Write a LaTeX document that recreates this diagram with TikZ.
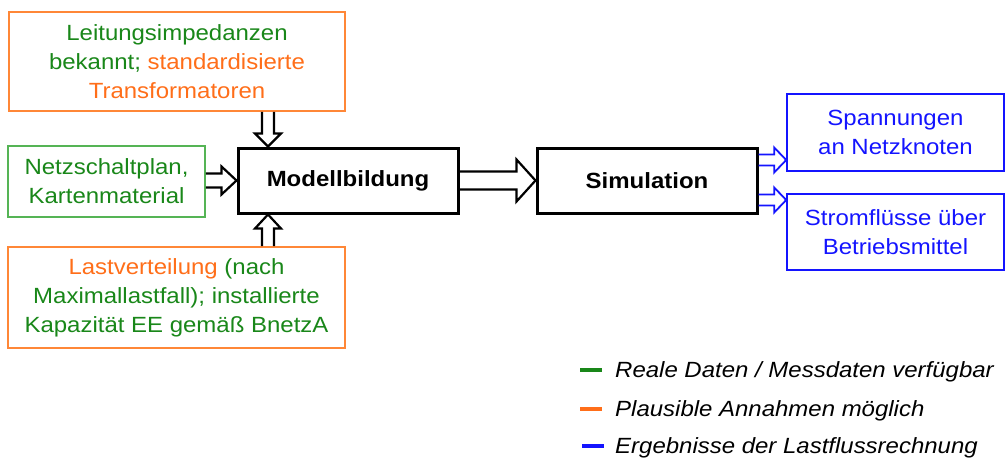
\documentclass[tikz,border=0pt]{standalone}
\usepackage{fontspec}
\setmainfont{Liberation Sans}[FakeStretch=1.09]
\usetikzlibrary{calc}

\definecolor{dgreen}{RGB}{25,135,25}
\definecolor{lgreen}{RGB}{85,180,85}
\definecolor{dorange}{RGB}{255,110,25}
\definecolor{lorange}{RGB}{255,135,55}
\definecolor{dblue}{RGB}{20,20,255}

\newcommand\G[1]{\textcolor{dgreen}{#1}}
\newcommand\Or[1]{\textcolor{dorange}{#1}}

% hollow block arrow: [style]{start}{end}{half shaft}{half head}{head length}
\newcommand\blockarrow[6][]{%
  \coordinate (ba-h) at ($(#3)!#6!(#2)$);
  \draw[#1] ($(#2)!#4!90:(#3)$) -- ($(ba-h)!#4!90:(#3)$) -- ($(ba-h)!#5!90:(#3)$)
    -- (#3) -- ($(ba-h)!#5!-90:(#3)$) -- ($(ba-h)!#4!-90:(#3)$) -- ($(#2)!#4!-90:(#3)$);
}

\tikzset{
  base/.style={inner sep=0pt, align=center,
    font=\fontsize{22}{29}\selectfont},
  greenbox/.style={base, draw=lgreen, line width=1.6pt, text=dgreen},
  orangebox/.style={base, draw=lorange, line width=1.6pt},
  bluebox/.style={base, draw=dblue, line width=1.6pt, text=dblue},
  procbox/.style={base, draw=black, line width=3pt,
    font=\fontsize{22}{29}\selectfont\bfseries},
  blackarrow/.style={draw=black, line width=2.2pt, line join=miter},
  bluearrow/.style={draw=dblue, line width=1.8pt, line join=miter},
  legtext/.style={anchor=base west, inner sep=0pt,
    font=\fontsize{22}{26}\selectfont\itshape},
  legkey/.style={line width=3.4pt},
}

\begin{document}
\begin{tikzpicture}[x=1pt, y=-1pt]
  \useasboundingbox (0,0) rectangle (1007,461);

  % input boxes
  \node[orangebox, minimum width=336pt, minimum height=99pt] (trafo) at (177,61.5)
    {\G{Leitungsimpedanzen}\\\G{bekannt;} \Or{standardisierte}\\\Or{Transformatoren}};
  \node[greenbox, minimum width=197pt, minimum height=71pt] (plan) at (106.5,181.5)
    {Netzschaltplan,\\Kartenmaterial};
  \node[orangebox, minimum width=337pt, minimum height=101pt] (last) at (176.5,297.5)
    {\Or{Lastverteilung} \G{(nach}\\\G{Maximallastfall); installierte}\\\G{Kapazität EE gemäß BnetzA}};

  % processing steps
  \node[procbox, minimum width=220pt, minimum height=65pt] (model) at (348,180.5) {Modellbildung};
  \node[procbox, minimum width=220pt, minimum height=65pt] (sim) at (647,180.5) {Simulation};

  % results
  \node[bluebox, minimum width=217pt, minimum height=77pt] (volt) at (895.5,132.5)
    {Spannungen\\an Netzknoten};
  \node[bluebox, minimum width=217pt, minimum height=76pt] (flow) at (895.5,232)
    {Stromflüsse über\\Betriebsmittel};

  % arrow end points
  \coordinate (a1e) at ($(model.north)+(-80,0)$);
  \coordinate (a1s) at (a1e |- trafo.south);
  \coordinate (a2e) at ($(model.south)+(-80,0)$);
  \coordinate (a2s) at (a2e |- last.north);
  \coordinate (a3s) at (plan.east |- model.west);
  \coordinate (a3e) at (model.west);
  \coordinate (a5s) at ($(sim.east)+(0,-20.5)$);
  \coordinate (a5e) at (a5s -| volt.west);
  \coordinate (a6s) at ($(sim.east)+(0,19.5)$);
  \coordinate (a6e) at (a6s -| flow.west);

  \blockarrow[blackarrow]{a1s}{a1e}{6pt}{13pt}{13pt}
  \blockarrow[blackarrow]{a2s}{a2e}{6pt}{13pt}{14pt}
  \blockarrow[blackarrow]{a3s}{a3e}{7pt}{14pt}{15pt}
  \blockarrow[blackarrow]{model.east}{sim.west}{9pt}{21pt}{19pt}
  \blockarrow[bluearrow]{a5s}{a5e}{5.5pt}{12.5pt}{12pt}
  \blockarrow[bluearrow]{a6s}{a6e}{5.5pt}{12.5pt}{12pt}

  % legend
  \draw[legkey, draw=dgreen]  (580,370) -- (602,370);
  \draw[legkey, draw=dorange] (580,409) -- (602,409);
  \draw[legkey, draw=dblue]   (582,446) -- (604,446);
  \node[legtext] (l1) at (615,377) {Reale Daten / Messdaten verfügbar};
  \node[legtext] (l2) at (615,416) {Plausible Annahmen möglich};
  \node[legtext] (l3) at (615,453) {Ergebnisse der Lastflussrechnung};
\end{tikzpicture}
\end{document}
